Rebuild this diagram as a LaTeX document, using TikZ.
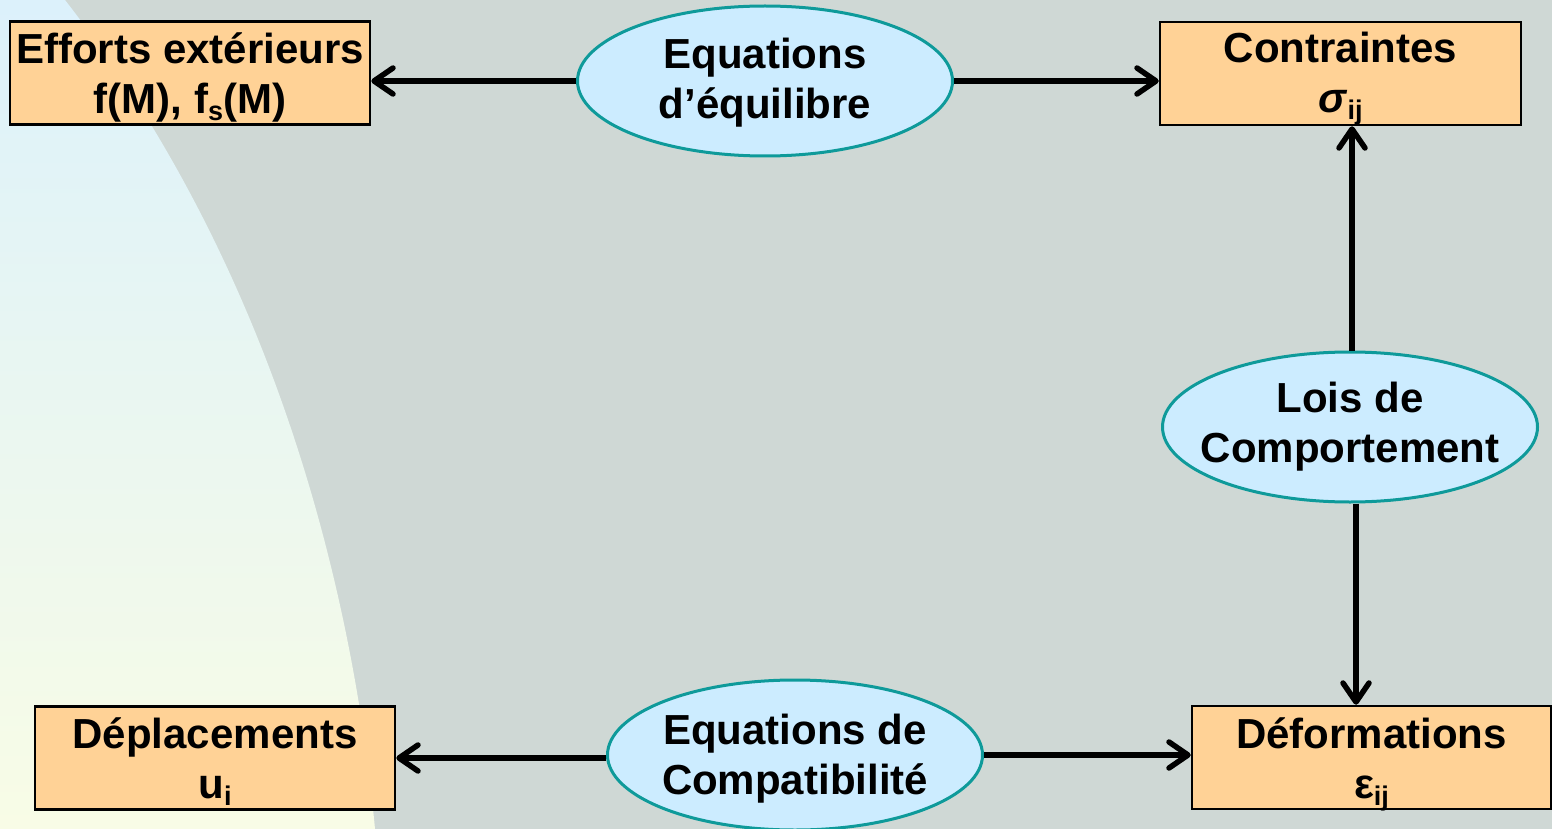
\documentclass[tikz,border=0pt]{standalone}
\usepackage{fontspec}
\setmainfont{Liberation Sans}
\usetikzlibrary{shapes.geometric,arrows.meta}
\definecolor{bggray}{HTML}{CFD8D5}
\definecolor{bgtop}{HTML}{DCF1FB}
\definecolor{bgbot}{HTML}{F8FCE6}
\definecolor{peach}{HTML}{FFD296}
\definecolor{ellfill}{HTML}{CCECFF}
\definecolor{ellline}{HTML}{0E9A9A}
\newcommand{\sbs}[1]{\raisebox{-7pt}{\fontsize{27}{27}\selectfont #1}}
\tikzset{
  txt/.style={font=\fontsize{42}{50}\selectfont\bfseries, align=center, text=black, inner sep=0pt},
  boxnode/.style={draw=black, line width=2.5pt, fill=peach, rectangle, inner sep=0pt, minimum width=#1, minimum height=103pt},
  ellnode/.style={draw=ellline, line width=3pt, fill=ellfill, ellipse, inner sep=0pt, minimum width=375pt, minimum height=150pt},
  conn/.style={line width=5.5pt, -{Straight Barb[length=19pt,width=26pt,round]}}
}
\begin{document}
\begin{tikzpicture}[x=1pt,y=-1pt]
\useasboundingbox (0,0) rectangle (1552,829);
\fill[bggray] (0,0) rectangle (1552,829);
\shade[top color=bgtop, bottom color=bgbot] (65,0) .. controls (260,250) and (350,560) .. (375,829) -- (0,829) -- (0,0) -- cycle;

\node[boxnode=360pt] (ef) at (190,73) {};
\node[boxnode=361pt] (co) at (1340.5,73.5) {};
\node[boxnode=360pt] (dp) at (215,758) {};
\node[boxnode=359pt] (df) at (1371.5,757.5) {};
\node[txt] (eft) at ([yshift=-4pt]ef.center) {Efforts extérieurs\\f(M), f\sbs{s}(M)};
\node[txt] (cot) at ([yshift=-5pt]co.center) {Contraintes\\\textit{σ}\sbs{ij}};
\node[txt] (dpt) at ([yshift=-4pt]dp.center) {Déplacements\\u\sbs{i}};
\node[txt] (dft) at ([yshift=-7pt]df.center) {Déformations\\ε\sbs{ij}};

\node[ellnode] (eq) at (765,81) {};
\node[ellnode] (lo) at (1350,427) {};
\node[ellnode] (cp) at (795,755) {};
\node[txt] (eqt) at ([yshift=-2pt]eq.center) {Equations\\d’équilibre};
\node[txt] (lot) at (lo.center) {Lois de\\Comportement};
\node[txt] (cpt) at ([yshift=-4pt]cp.center) {Equations de\\Compatibilité};

\draw[conn] (eq.west) -- (eq.west -| ef.east);
\draw[conn] (eq.east) -- (eq.east -| co.west);
\draw[conn] ([xshift=2pt]lo.north) -- ([xshift=2pt]lo.north |- co.south);
\draw[conn] ([xshift=6pt]lo.south) -- ([xshift=6pt]lo.south |- df.north);
\draw[conn] ([yshift=-3pt]cp.west) -- ([yshift=-3pt]cp.west -| dp.east);
\draw[conn] (cp.east) -- (cp.east -| df.west);
\end{tikzpicture}
\end{document}
